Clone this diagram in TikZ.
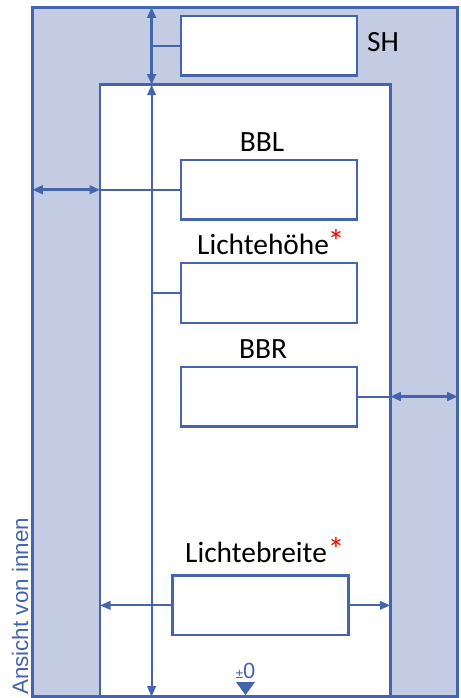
\documentclass[tikz,border=0pt]{standalone}
\usepackage{fontspec}
\setmainfont{Carlito}
\newfontfamily\arialfont{Liberation Sans}
\usetikzlibrary{calc}
\usetikzlibrary{arrows.meta}
\definecolor{planblue}{HTML}{4464AD}
\definecolor{wallblue}{HTML}{C3CCE3}
\tikzstyle{wall} = [draw=planblue, fill=wallblue, line width=2.6pt, rectangle, inner sep=0pt, outer sep=0pt, minimum width=425.4bp, minimum height=689.4bp]
\tikzstyle{opening} = [draw=planblue, fill=white, line width=2.6pt, rectangle, inner sep=0pt, outer sep=0pt, minimum width=290.3bp, minimum height=612bp]
\tikzstyle{field} = [draw=planblue, fill=white, line width=2.4pt, rectangle, inner sep=0pt, outer sep=0pt, minimum width=176bp, minimum height=59.5bp]
\tikzstyle{dim} = [draw=planblue, line width=2.7pt, {Triangle[length=10.5bp,width=8.5bp]}-{Triangle[length=10.5bp,width=8.5bp]}]
\tikzstyle{thindim} = [draw=planblue, line width=2pt]
\tikzstyle{caption} = [font=\fontsize{29.5}{32}\selectfont, text=black, inner sep=0pt]
\tikzstyle{star} = [font=\fontsize{34}{34}\selectfont, text=red, inner sep=0pt]
\begin{document}
\begin{tikzpicture}[x=1bp,y=-1bp]
        \useasboundingbox (0,0) rectangle (461,698);
        \node [wall, anchor=north west] (wall) at (32.3,7.3) {};
        \node [opening, anchor=north west] (hole) at (100,84.7) {};
        \node [field, anchor=north west] (sh) at (181,16) {};
        \node [field, anchor=north west] (bbl) at (181,160) {};
        \node [field, anchor=north west] (lh) at (181,263.3) {};
        \node [field, anchor=north west] (bbr) at (181,366.8) {};
        \node [field, anchor=north west] (lb) at (172.5,575.6) {};
        \coordinate (axis) at (151.6,0);
        % labels
        \node [caption, anchor=base west] (shtext) at (367,52) {SH};
        \node [caption, anchor=base] (bbltext) at (262,151) {BBL};
        \node [caption, anchor=base west] (lhtext) at (197,254) {Lichtehöhe};
        \node [star, anchor=base west] (lhstar) at (327.5,253) {*};
        \node [caption, anchor=base] (bbrtext) at (263,358) {BBR};
        \node [caption, anchor=base west] (lbtext) at (185,562) {Lichtebreite};
        \node [star, anchor=base west] (lbstar) at (327.5,561) {*};
        \node [font=\arialfont\fontsize{22.5}{24}\selectfont, text=planblue, rotate=90, anchor=base west, inner sep=0pt] (view) at (28,695) {Ansicht von innen};
        \node [font=\arialfont\fontsize{22}{24}\selectfont, text=planblue, anchor=base, inner sep=0pt] (zero) at (245.5,678) {{\fontsize{14}{14}\selectfont ±}0};
        \fill [planblue] (236,682) -- (255,682) -- (245.5,695) -- cycle;
        % height lines
        \draw [dim] (axis |- wall.north) -- (axis |- hole.north);
        \draw [thindim, {Triangle[length=10.5bp,width=8.5bp]}-{Triangle[length=10.5bp,width=8.5bp]}] (axis |- hole.north) -- (axis |- hole.south);
        \draw [thindim] (sh.west) -- (axis |- sh.west);
        \draw [thindim] (lh.west) -- (axis |- lh.west);
        % width lines
        \draw [dim] (wall.west |- bbl.west) -- (hole.west |- bbl.west);
        \draw [thindim] (bbl.west) -- (hole.west |- bbl.west);
        \draw [dim] (hole.east |- bbr.east) -- (wall.east |- bbr.east);
        \draw [thindim] (bbr.east) -- (hole.east |- bbr.east);
        \draw [thindim, -{Triangle[length=10.5bp,width=8.5bp]}] (lb.west) -- (hole.west |- lb.west);
        \draw [thindim, -{Triangle[length=10.5bp,width=8.5bp]}] (lb.east) -- (hole.east |- lb.east);
    \end{tikzpicture}
\end{document}
